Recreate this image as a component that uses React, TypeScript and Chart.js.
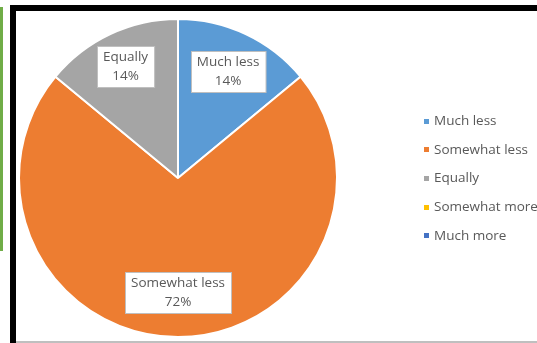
import React, { useEffect, useRef } from "react";
import { Chart, registerables } from "chart.js";

Chart.register(...registerables);

const categories = ["Much less", "Somewhat less", "Equally", "Somewhat more", "Much more"];
const values = [14, 72, 14, 0, 0];
const colors = ["#5B9BD5", "#ED7D31", "#A5A5A5", "#FFC000", "#4472C4"];
const labelRadius = [0.74, 0.72, 0.775, 0.74, 0.74];

const FONT = '"Open Sans", sans-serif';
const TEXT = "#595959";
const FONT_SIZE = 13.5;

const sliceLabels = {
  id: "sliceLabels",
  afterDatasetsDraw(chart: any) {
    const ctx = chart.ctx;
    const meta = chart.getDatasetMeta(0);
    const data = chart.data.datasets[0].data as number[];
    const total = data.reduce((a, b) => a + b, 0);
    ctx.save();
    ctx.font = `${FONT_SIZE}px ${FONT}`;
    meta.data.forEach((arc: any, i: number) => {
      const v = data[i];
      if (!v) return;
      const p = arc.getProps(["x", "y", "startAngle", "endAngle", "outerRadius"], true);
      const mid = (p.startAngle + p.endAngle) / 2;
      const r = p.outerRadius * labelRadius[i];
      const cx = p.x + Math.cos(mid) * r;
      const cy = p.y + Math.sin(mid) * r;
      const lines = [String(chart.data.labels[i]), Math.round((v / total) * 100) + "%"];
      const lh = 19;
      const w = Math.max(...lines.map((l) => ctx.measureText(l).width)) + 12;
      const h = lines.length * lh + 3;
      const x0 = Math.round(cx - w / 2) + 0.5;
      const y0 = Math.round(cy - h / 2) + 0.5;
      ctx.fillStyle = "#ffffff";
      ctx.fillRect(x0, y0, w, h);
      ctx.strokeStyle = "#BFBFBF";
      ctx.lineWidth = 1;
      ctx.strokeRect(x0, y0, w, h);
      ctx.fillStyle = TEXT;
      ctx.textAlign = "center";
      ctx.textBaseline = "middle";
      lines.forEach((l, k) => ctx.fillText(l, cx, cy - ((lines.length - 1) * lh) / 2 + k * lh));
    });
    ctx.restore();
  },
};

const sideLegend = {
  id: "sideLegend",
  afterDraw(chart: any) {
    const ctx = chart.ctx;
    const ds = chart.data.datasets[0];
    const x = chart.chartArea.right + 86;
    const y0 = 110;
    const step = 28.7;
    ctx.save();
    ctx.font = `${FONT_SIZE}px ${FONT}`;
    ctx.textBaseline = "middle";
    ctx.textAlign = "left";
    (chart.data.labels as string[]).forEach((lab, i) => {
      const y = y0 + i * step;
      ctx.fillStyle = ds.backgroundColor[i];
      ctx.fillRect(x, Math.round(y - 2.5), 5, 5);
      ctx.fillStyle = TEXT;
      ctx.fillText(lab, x + 10, y);
    });
    ctx.restore();
  },
};

export default function App() {
  const ref = useRef<HTMLCanvasElement>(null);
  useEffect(() => {
    if (!ref.current) return;
    const chart = new Chart(ref.current, {
      type: "pie",
      data: {
        labels: categories,
        datasets: [
          {
            data: values,
            backgroundColor: colors,
            borderColor: "#ffffff",
            borderWidth: 2,
          },
        ],
      },
      options: {
        animation: false,
        responsive: false,
        maintainAspectRatio: false,
        layout: { padding: { left: 2, right: 199, top: 7, bottom: 3 } },
        plugins: {
          legend: { display: false },
          tooltip: { enabled: false },
        },
      },
      plugins: [sliceLabels, sideLegend],
    });
    return () => chart.destroy();
  }, []);

  return (
    <div style={{ position: "fixed", left: 0, top: 0, width: 537, height: 343, background: "#fff", overflow: "hidden" }}>
      <div style={{ position: "absolute", left: 0, top: 7, width: 3, height: 244, background: "#70AD47" }} />
      <div style={{ position: "absolute", left: 10, top: 5, width: 6, height: 338, background: "#000" }} />
      <div style={{ position: "absolute", left: 10, top: 5, width: 527, height: 6, background: "#000" }} />
      <div style={{ position: "absolute", left: 16, top: 341, width: 521, height: 2, background: "#BFBFBF" }} />
      <canvas ref={ref} width={521} height={330} style={{ position: "absolute", left: 16, top: 11, width: 521, height: 330 }} />
    </div>
  );
}
